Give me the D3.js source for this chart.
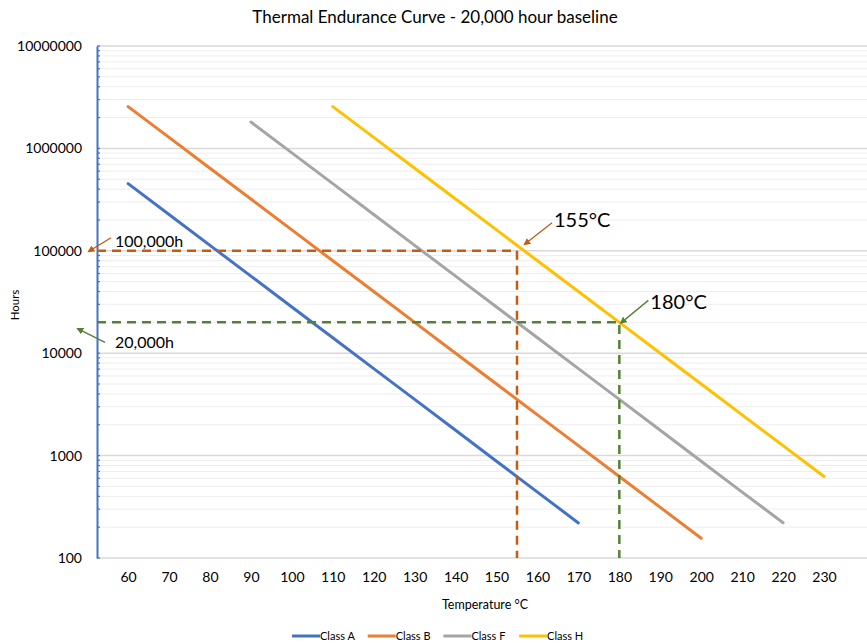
<!DOCTYPE html>
<html>
<head>
<meta charset="utf-8">
<script src="https://cdn.jsdelivr.net/npm/d3@7"></script>
<style>
  body { margin: 0; background: #fff; }
  text { font-family: Lato, "Open Sans", sans-serif; fill: #000; }
</style>
</head>
<body>
<div id="chart"></div>
<script>
// Data
const seriesNames = ["Class A", "Class B", "Class F", "Class H"];
const seriesColors = ["#4472C4", "#ED7D31", "#A5A5A5", "#FFC000"];

const classATemps = [60, 70, 80, 90, 100, 110, 120, 130, 140, 150, 160, 170];
const classAHours = [452500, 226300, 113100, 56570, 28280, 14140, 7070, 3540, 1770, 880, 440, 220];

const classBTemps = [60, 70, 80, 90, 100, 110, 120, 130, 140, 150, 160, 170, 180, 190, 200];
const classBHours = [2560000, 1280000, 640000, 320000, 160000, 80000, 40000, 20000, 10000, 5000, 2500, 1250, 625, 312, 156];

const classFTemps = [90, 100, 110, 120, 130, 140, 150, 160, 170, 180, 190, 200, 210, 220];
const classFHours = [1810000, 905100, 452500, 226300, 113100, 56570, 28280, 14140, 7070, 3540, 1770, 880, 440, 221];

const classHTemps = [110, 120, 130, 140, 150, 160, 170, 180, 190, 200, 210, 220, 230];
const classHHours = [2560000, 1280000, 640000, 320000, 160000, 80000, 40000, 20000, 10000, 5000, 2500, 1250, 625];

const xTicks = [60, 70, 80, 90, 100, 110, 120, 130, 140, 150, 160, 170, 180, 190, 200, 210, 220, 230];
const yTicks = [100, 1000, 10000, 100000, 1000000, 10000000];

// reference markers: 155°C -> 100,000h, 180°C -> 20,000h
const refTemps = [155, 180];
const refHours = [100000, 20000];
const refColors = ["#C55A11", "#548235"];
const refTempLabels = ["155°C", "180°C"];
const refHourLabels = ["100,000h", "20,000h"];

const width = 867, height = 643;
const margin = { top: 46, right: 0, bottom: 85, left: 97 };

const svg = d3.select("#chart")
    .append("svg")
    .attr("width", width)
    .attr("height", height);

const x = d3.scaleLinear()
    .domain([52.4, 240.5])
    .range([margin.left, width - margin.right]);

const y = d3.scaleLog()
    .domain([100, 10000000])
    .range([height - margin.bottom, margin.top]);

// Title
svg.append("text")
    .attr("x", 435)
    .attr("y", 23)
    .attr("text-anchor", "middle")
    .style("font-size", "17px")
    .text("Thermal Endurance Curve - 20,000 hour baseline");

// Gridlines (minor then major)
const minorVals = [];
yTicks.slice(0, -1).forEach(d => {
    [2, 3, 4, 5, 6, 7, 8, 9].forEach(m => minorVals.push(d * m));
});

svg.append("g")
    .selectAll("line")
    .data(minorVals)
    .join("line")
    .attr("x1", margin.left)
    .attr("x2", width)
    .attr("y1", d => y(d))
    .attr("y2", d => y(d))
    .attr("stroke", "#eeeeee")
    .attr("stroke-width", 1);

svg.append("g")
    .selectAll("line")
    .data(yTicks)
    .join("line")
    .attr("x1", margin.left)
    .attr("x2", width)
    .attr("y1", d => y(d))
    .attr("y2", d => y(d))
    .attr("stroke", "#d9d9d9")
    .attr("stroke-width", 1.5);

// Y axis
const yAxis = svg.append("g")
    .attr("transform", `translate(${margin.left},0)`)
    .call(d3.axisLeft(y).tickValues(yTicks).tickFormat(d3.format("d")).tickSize(0).tickPadding(15));
yAxis.select(".domain").attr("stroke", "#4472C4").attr("stroke-width", 2);
yAxis.selectAll("text").style("font-size", "14px").style("font-family", "Lato, sans-serif");

// blue minor tick marks on the y axis
svg.append("g")
    .selectAll("line")
    .data(minorVals.concat(yTicks))
    .join("line")
    .attr("x1", margin.left)
    .attr("x2", margin.left + 3)
    .attr("y1", d => y(d))
    .attr("y2", d => y(d))
    .attr("stroke", "#4472C4")
    .attr("stroke-width", 1.2);

// X axis labels
const xAxis = svg.append("g")
    .attr("transform", `translate(0,${height - margin.bottom})`)
    .call(d3.axisBottom(x).tickValues(xTicks).tickSize(0).tickPadding(14));
xAxis.select(".domain").remove();
xAxis.selectAll("text").style("font-size", "14px").style("font-family", "Lato, sans-serif");

// Axis titles
svg.append("text")
    .attr("x", 485)
    .attr("y", 609)
    .attr("text-anchor", "middle")
    .style("font-size", "12.5px")
    .text("Temperature °C");

svg.append("text")
    .attr("transform", "translate(19,305) rotate(-90)")
    .attr("text-anchor", "middle")
    .style("font-size", "11.5px")
    .text("Hours");

// Series lines
const series = [
    { temps: classATemps, hours: classAHours },
    { temps: classBTemps, hours: classBHours },
    { temps: classFTemps, hours: classFHours },
    { temps: classHTemps, hours: classHHours }
];

const line = d3.line()
    .x(d => x(d[0]))
    .y(d => y(d[1]));

svg.append("g")
    .selectAll("path")
    .data(series)
    .join("path")
    .attr("d", s => line(s.temps.map((t, i) => [t, s.hours[i]])))
    .attr("fill", "none")
    .attr("stroke", (s, i) => seriesColors[i])
    .attr("stroke-width", 3)
    .attr("stroke-linecap", "round");

// Reference dashed lines
const refs = svg.append("g");
refTemps.forEach((t, i) => {
    const path = d3.path();
    path.moveTo(margin.left, y(refHours[i]));
    path.lineTo(x(t), y(refHours[i]));
    path.lineTo(x(t), y(100));
    refs.append("path")
        .attr("d", path.toString())
        .attr("fill", "none")
        .attr("stroke", refColors[i])
        .attr("stroke-width", 2.5)
        .attr("stroke-dasharray", "9,6");
});

// Arrowheads
const defs = svg.append("defs");
refColors.forEach((c, i) => {
    defs.append("marker")
        .attr("id", "arrow" + i)
        .attr("viewBox", "0 0 10 10")
        .attr("refX", 9)
        .attr("refY", 5)
        .attr("markerWidth", 7)
        .attr("markerHeight", 7)
        .attr("markerUnits", "userSpaceOnUse")
        .attr("orient", "auto")
        .append("path")
        .attr("d", "M0,0 L10,5 L0,10 z")
        .attr("fill", c);
});

function arrow(x1, y1, x2, y2, i) {
    svg.append("line")
        .attr("x1", x1).attr("y1", y1)
        .attr("x2", x2).attr("y2", y2)
        .attr("stroke", refColors[i])
        .attr("stroke-width", 1.3)
        .attr("marker-end", `url(#arrow${i})`);
}

// arrows into the curve intersections
arrow(x(155) + 35, y(100000) - 28, x(155) + 7, y(100000) - 6, 0);
arrow(x(180) + 29, y(20000) - 22, x(180) + 1, y(20000) + 1, 1);
// arrows toward the hour values on the axis
arrow(111, y(100000) - 13, 88, y(100000) + 1, 0);
arrow(105, y(20000) + 20, 77, y(20000) + 6, 1);

// Annotation labels
svg.append("text")
    .attr("x", x(155) + 37)
    .attr("y", y(100000) - 24)
    .style("font-size", "20px")
    .text(refTempLabels[0]);

svg.append("text")
    .attr("x", x(180) + 31)
    .attr("y", y(20000) - 13)
    .style("font-size", "20px")
    .text(refTempLabels[1]);

svg.append("text")
    .attr("x", 115)
    .attr("y", y(100000) - 4)
    .style("font-size", "16px")
    .text(refHourLabels[0]);

svg.append("text")
    .attr("x", 115)
    .attr("y", y(20000) + 26)
    .style("font-size", "16px")
    .text(refHourLabels[1]);

// Legend
const legend = svg.append("g")
    .attr("transform", "translate(292,636)");

const items = legend.selectAll("g")
    .data(seriesNames)
    .join("g")
    .attr("transform", (d, i) => `translate(${i * 75.7},0)`);

items.append("line")
    .attr("x1", 0).attr("x2", 28)
    .attr("y1", 0).attr("y2", 0)
    .attr("stroke", (d, i) => seriesColors[i])
    .attr("stroke-width", 3);

items.append("text")
    .attr("x", 28)
    .attr("y", 4)
    .style("font-size", "11px")
    .text(d => d);
</script>
</body>
</html>
